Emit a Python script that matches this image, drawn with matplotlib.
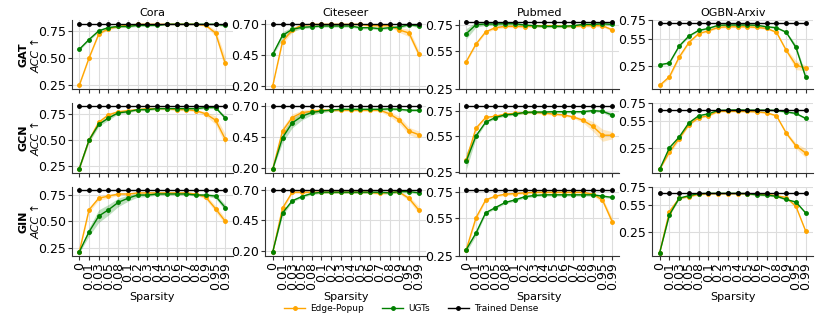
import numpy as np
import matplotlib
matplotlib.use("Agg")
import matplotlib.pyplot as plt
from matplotlib.ticker import FormatStrFormatter

sparsity = ["0", "0.01", "0.03", "0.05", "0.08", "0.1", "0.2", "0.3", "0.4",
            "0.5", "0.6", "0.7", "0.8", "0.9", "0.95", "0.99"]
datasets = ["Cora", "Citeseer", "Pubmed", "OGBN-Arxiv"]
models = ["GAT", "GCN", "GIN"]

# trained dense accuracy, one value per dataset
dense_gat = [0.81, 0.70, 0.77, 0.72]
dense_gcn = [0.82, 0.70, 0.79, 0.676]
dense_gin = [0.80, 0.70, 0.77, 0.68]

# ---- Cora ----
cora_gat_ep = [0.25, 0.50, 0.72, 0.77, 0.79, 0.80, 0.81, 0.81, 0.81, 0.81, 0.81, 0.81, 0.81, 0.80, 0.73, 0.45]
cora_gat_ep_sd = [0.01, 0.01, 0.01, 0.01, 0.01, 0.01, 0.005, 0.005, 0.005, 0.005, 0.005, 0.005, 0.005, 0.01, 0.03, 0.06]
cora_gat_ugt = [0.58, 0.67, 0.75, 0.78, 0.79, 0.79, 0.80, 0.80, 0.80, 0.81, 0.81, 0.81, 0.81, 0.81, 0.81, 0.80]
cora_gat_ugt_sd = [0.01, 0.01, 0.01, 0.01, 0.01, 0.01, 0.01, 0.01, 0.005, 0.005, 0.005, 0.005, 0.005, 0.005, 0.01, 0.01]

cora_gcn_ep = [0.23, 0.50, 0.67, 0.74, 0.77, 0.78, 0.79, 0.80, 0.80, 0.80, 0.79, 0.79, 0.78, 0.75, 0.69, 0.51]
cora_gcn_ep_sd = [0.01, 0.02, 0.02, 0.02, 0.01, 0.01, 0.01, 0.01, 0.01, 0.01, 0.01, 0.01, 0.01, 0.02, 0.04, 0.05]
cora_gcn_ugt = [0.23, 0.50, 0.65, 0.71, 0.76, 0.77, 0.79, 0.79, 0.80, 0.80, 0.80, 0.80, 0.80, 0.81, 0.81, 0.71]
cora_gcn_ugt_sd = [0.01, 0.02, 0.02, 0.02, 0.01, 0.01, 0.01, 0.01, 0.01, 0.01, 0.01, 0.01, 0.01, 0.01, 0.01, 0.02]

cora_gin_ep = [0.21, 0.61, 0.72, 0.74, 0.76, 0.76, 0.77, 0.77, 0.77, 0.77, 0.77, 0.77, 0.76, 0.73, 0.62, 0.50]
cora_gin_ep_sd = [0.01, 0.02, 0.02, 0.02, 0.01, 0.01, 0.01, 0.01, 0.01, 0.01, 0.01, 0.01, 0.01, 0.02, 0.03, 0.03]
cora_gin_ugt = [0.21, 0.40, 0.55, 0.61, 0.68, 0.72, 0.75, 0.75, 0.76, 0.76, 0.76, 0.76, 0.75, 0.75, 0.74, 0.63]
cora_gin_ugt_sd = [0.01, 0.04, 0.06, 0.05, 0.04, 0.03, 0.02, 0.015, 0.01, 0.01, 0.01, 0.01, 0.01, 0.01, 0.02, 0.03]

# ---- Citeseer ----
citeseer_gat_ep = [0.20, 0.56, 0.655, 0.695, 0.70, 0.70, 0.70, 0.70, 0.70, 0.70, 0.69, 0.69, 0.69, 0.655, 0.63, 0.46]
citeseer_gat_ep_sd = [0.005, 0.02, 0.02, 0.01, 0.01, 0.01, 0.01, 0.01, 0.01, 0.01, 0.01, 0.01, 0.01, 0.02, 0.03, 0.03]
citeseer_gat_ugt = [0.457, 0.61, 0.66, 0.676, 0.681, 0.687, 0.687, 0.687, 0.687, 0.673, 0.673, 0.665, 0.673, 0.679, 0.697, 0.687]
citeseer_gat_ugt_sd = [0.01, 0.03, 0.02, 0.01, 0.01, 0.01, 0.01, 0.01, 0.01, 0.01, 0.01, 0.01, 0.01, 0.01, 0.01, 0.01]

citeseer_gcn_ep = [0.19, 0.50, 0.61, 0.65, 0.66, 0.67, 0.67, 0.67, 0.67, 0.67, 0.67, 0.67, 0.64, 0.59, 0.50, 0.47]
citeseer_gcn_ep_sd = [0.005, 0.03, 0.03, 0.02, 0.02, 0.01, 0.01, 0.01, 0.01, 0.01, 0.01, 0.01, 0.02, 0.03, 0.03, 0.03]
citeseer_gcn_ugt = [0.19, 0.445, 0.566, 0.62, 0.651, 0.663, 0.671, 0.677, 0.677, 0.677, 0.677, 0.677, 0.68, 0.677, 0.669, 0.669]
citeseer_gcn_ugt_sd = [0.005, 0.04, 0.04, 0.03, 0.02, 0.015, 0.01, 0.01, 0.01, 0.01, 0.01, 0.01, 0.01, 0.01, 0.01, 0.01]

citeseer_gin_ep = [0.19, 0.55, 0.68, 0.68, 0.68, 0.68, 0.68, 0.68, 0.68, 0.68, 0.68, 0.67, 0.68, 0.68, 0.63, 0.535]
citeseer_gin_ep_sd = [0.005, 0.02, 0.01, 0.01, 0.01, 0.01, 0.01, 0.01, 0.01, 0.01, 0.01, 0.01, 0.01, 0.01, 0.02, 0.03]
citeseer_gin_ugt = [0.195, 0.51, 0.61, 0.645, 0.67, 0.68, 0.68, 0.68, 0.68, 0.68, 0.68, 0.68, 0.675, 0.685, 0.685, 0.675]
citeseer_gin_ugt_sd = [0.005, 0.02, 0.01, 0.01, 0.01, 0.01, 0.01, 0.01, 0.01, 0.01, 0.01, 0.01, 0.01, 0.01, 0.01, 0.01]

# ---- Pubmed ----
pubmed_gat_ep = [0.465, 0.60, 0.695, 0.727, 0.737, 0.737, 0.735, 0.742, 0.742, 0.742, 0.737, 0.737, 0.742, 0.742, 0.742, 0.71]
pubmed_gat_ep_sd = [0.01, 0.01, 0.01, 0.01, 0.01, 0.01, 0.01, 0.01, 0.01, 0.01, 0.01, 0.01, 0.01, 0.01, 0.01, 0.01]
pubmed_gat_ugt = [0.68, 0.75, 0.755, 0.755, 0.757, 0.757, 0.747, 0.742, 0.737, 0.737, 0.737, 0.742, 0.752, 0.752, 0.757, 0.752]
pubmed_gat_ugt_sd = [0.04, 0.02, 0.01, 0.01, 0.01, 0.01, 0.01, 0.01, 0.01, 0.01, 0.01, 0.01, 0.01, 0.01, 0.01, 0.01]

pubmed_gcn_ep = [0.35, 0.61, 0.70, 0.71, 0.727, 0.733, 0.741, 0.741, 0.736, 0.727, 0.72, 0.704, 0.676, 0.627, 0.553, 0.553]
pubmed_gcn_ep_sd = [0.04, 0.02, 0.01, 0.01, 0.01, 0.01, 0.01, 0.01, 0.01, 0.01, 0.01, 0.01, 0.02, 0.04, 0.05, 0.03]
pubmed_gcn_ugt = [0.34, 0.547, 0.661, 0.699, 0.721, 0.727, 0.741, 0.744, 0.744, 0.747, 0.747, 0.747, 0.747, 0.756, 0.75, 0.72]
pubmed_gcn_ugt_sd = [0.07, 0.02, 0.01, 0.01, 0.01, 0.01, 0.01, 0.01, 0.01, 0.01, 0.01, 0.01, 0.01, 0.01, 0.01, 0.02]

pubmed_gin_ep = [0.30, 0.55, 0.69, 0.72, 0.735, 0.74, 0.745, 0.75, 0.75, 0.75, 0.75, 0.75, 0.75, 0.735, 0.69, 0.52]
pubmed_gin_ep_sd = [0.02, 0.02, 0.01, 0.01, 0.01, 0.01, 0.01, 0.01, 0.01, 0.01, 0.01, 0.01, 0.01, 0.01, 0.02, 0.03]
pubmed_gin_ugt = [0.30, 0.43, 0.59, 0.63, 0.67, 0.69, 0.715, 0.725, 0.73, 0.73, 0.73, 0.73, 0.73, 0.73, 0.72, 0.71]
pubmed_gin_ugt_sd = [0.02, 0.02, 0.01, 0.01, 0.01, 0.01, 0.01, 0.01, 0.01, 0.01, 0.01, 0.01, 0.01, 0.01, 0.01, 0.01]

# ---- OGBN-Arxiv ----
ogbn_gat_ep = [0.032, 0.128, 0.345, 0.506, 0.605, 0.635, 0.674, 0.68, 0.68, 0.68, 0.674, 0.662, 0.62, 0.42, 0.256, 0.223]
ogbn_gat_ep_sd = [0.01, 0.02, 0.02, 0.01, 0.01, 0.01, 0.01, 0.01, 0.01, 0.01, 0.01, 0.01, 0.01, 0.02, 0.05, 0.03]
ogbn_gat_ugt = [0.26, 0.28, 0.467, 0.578, 0.64, 0.662, 0.697, 0.70, 0.70, 0.70, 0.697, 0.68, 0.67, 0.62, 0.452, 0.124]
ogbn_gat_ugt_sd = [0.01, 0.01, 0.01, 0.01, 0.01, 0.01, 0.01, 0.01, 0.01, 0.01, 0.01, 0.01, 0.01, 0.01, 0.03, 0.03]

ogbn_gcn_ep = [0.007, 0.20, 0.353, 0.507, 0.588, 0.61, 0.66, 0.66, 0.66, 0.658, 0.654, 0.643, 0.61, 0.415, 0.272, 0.19]
ogbn_gcn_ep_sd = [0.005, 0.02, 0.02, 0.01, 0.01, 0.01, 0.01, 0.01, 0.01, 0.01, 0.01, 0.01, 0.01, 0.02, 0.03, 0.05]
ogbn_gcn_ugt = [0.007, 0.25, 0.37, 0.53, 0.61, 0.632, 0.67, 0.673, 0.676, 0.673, 0.673, 0.673, 0.67, 0.654, 0.636, 0.58]
ogbn_gcn_ugt_sd = [0.005, 0.01, 0.01, 0.01, 0.01, 0.01, 0.01, 0.01, 0.01, 0.01, 0.01, 0.01, 0.01, 0.01, 0.01, 0.01]

ogbn_gin_ep = [0.023, 0.474, 0.622, 0.64, 0.665, 0.673, 0.673, 0.673, 0.673, 0.673, 0.665, 0.665, 0.65, 0.63, 0.532, 0.26]
ogbn_gin_ep_sd = [0.005, 0.03, 0.01, 0.01, 0.01, 0.01, 0.01, 0.01, 0.01, 0.01, 0.01, 0.01, 0.01, 0.01, 0.01, 0.01]
ogbn_gin_ugt = [0.023, 0.44, 0.622, 0.65, 0.673, 0.676, 0.676, 0.676, 0.676, 0.673, 0.66, 0.656, 0.644, 0.608, 0.58, 0.46]
ogbn_gin_ugt_sd = [0.005, 0.01, 0.01, 0.01, 0.01, 0.01, 0.01, 0.01, 0.01, 0.01, 0.01, 0.01, 0.01, 0.01, 0.01, 0.01]

yticks = {
    "Cora": [0.25, 0.50, 0.75],
    "Citeseer": [0.20, 0.45, 0.70],
    "Pubmed": [0.25, 0.55, 0.75],
    "OGBN-Arxiv": [0.25, 0.55, 0.75],
}

runs = {
    ("GAT", "Cora"): (cora_gat_ep, cora_gat_ep_sd, cora_gat_ugt, cora_gat_ugt_sd),
    ("GCN", "Cora"): (cora_gcn_ep, cora_gcn_ep_sd, cora_gcn_ugt, cora_gcn_ugt_sd),
    ("GIN", "Cora"): (cora_gin_ep, cora_gin_ep_sd, cora_gin_ugt, cora_gin_ugt_sd),
    ("GAT", "Citeseer"): (citeseer_gat_ep, citeseer_gat_ep_sd, citeseer_gat_ugt, citeseer_gat_ugt_sd),
    ("GCN", "Citeseer"): (citeseer_gcn_ep, citeseer_gcn_ep_sd, citeseer_gcn_ugt, citeseer_gcn_ugt_sd),
    ("GIN", "Citeseer"): (citeseer_gin_ep, citeseer_gin_ep_sd, citeseer_gin_ugt, citeseer_gin_ugt_sd),
    ("GAT", "Pubmed"): (pubmed_gat_ep, pubmed_gat_ep_sd, pubmed_gat_ugt, pubmed_gat_ugt_sd),
    ("GCN", "Pubmed"): (pubmed_gcn_ep, pubmed_gcn_ep_sd, pubmed_gcn_ugt, pubmed_gcn_ugt_sd),
    ("GIN", "Pubmed"): (pubmed_gin_ep, pubmed_gin_ep_sd, pubmed_gin_ugt, pubmed_gin_ugt_sd),
    ("GAT", "OGBN-Arxiv"): (ogbn_gat_ep, ogbn_gat_ep_sd, ogbn_gat_ugt, ogbn_gat_ugt_sd),
    ("GCN", "OGBN-Arxiv"): (ogbn_gcn_ep, ogbn_gcn_ep_sd, ogbn_gcn_ugt, ogbn_gcn_ugt_sd),
    ("GIN", "OGBN-Arxiv"): (ogbn_gin_ep, ogbn_gin_ep_sd, ogbn_gin_ugt, ogbn_gin_ugt_sd),
}
dense = {"GAT": dense_gat, "GCN": dense_gcn, "GIN": dense_gin}

plt.rcParams["font.family"] = "DejaVu Sans"
plt.rcParams["font.size"] = 8

ep_color = "orange"
ugt_color = "green"

fig, axes = plt.subplots(3, 4, figsize=(8.22, 3.13), dpi=100)
fig.subplots_adjust(left=0.0876, right=0.989, bottom=0.182, top=0.936,
                    wspace=0.205, hspace=0.2)

x = np.arange(len(sparsity))

for i, m in enumerate(models):
    for j, d in enumerate(datasets):
        ax = axes[i, j]
        ep, ep_sd, ugt, ugt_sd = [np.array(a) for a in runs[(m, d)]]

        ax.fill_between(x, ep - ep_sd, ep + ep_sd, color=ep_color, alpha=0.25, lw=0)
        ax.plot(x, ep, color=ep_color, marker="o", ms=2.5, lw=1.0, label="Edge-Popup")
        ax.fill_between(x, ugt - ugt_sd, ugt + ugt_sd, color=ugt_color, alpha=0.25, lw=0)
        ax.plot(x, ugt, color=ugt_color, marker="o", ms=2.5, lw=1.0, label="UGTs")
        ax.plot(x, [dense[m][j]] * len(x), color="black", marker="o", ms=2.5, lw=1.0,
                label="Trained Dense")

        ax.set_xticks(x)
        if i == 2:
            ax.set_xticklabels(sparsity, rotation=90)
            ax.set_xlabel("Sparsity", labelpad=1)
        else:
            ax.set_xticklabels([])
        ax.set_yticks(yticks[d])
        ax.yaxis.set_major_formatter(FormatStrFormatter("%.2f"))

        ax.grid(True, color="#dddddd", lw=0.8)
        ax.set_axisbelow(True)
        for s in ["top", "right"]:
            ax.spines[s].set_visible(False)
        for s in ["left", "bottom"]:
            ax.spines[s].set_color("#333333")
            ax.spines[s].set_linewidth(0.8)
        ax.tick_params(length=3, width=0.8, color="#333333", pad=1.5, labelsize=9)

        if i == 0:
            ax.set_title(d, fontsize=8, pad=3)
        if j == 0:
            ax.text(-0.305, 0.5, m, transform=ax.transAxes, rotation=90,
                    fontweight="bold", fontsize=8, ha="center", va="center")
            ax.text(-0.222, 0.5, "ACC ↑", transform=ax.transAxes, rotation=90,
                    fontstyle="italic", fontsize=8, ha="center", va="center")

handles, labels = axes[0, 0].get_legend_handles_labels()
fig.legend(handles, labels, loc="lower center", bbox_to_anchor=(0.5, -0.025), ncol=3,
           frameon=False, fontsize=6.5, handlelength=2.4, handletextpad=0.5,
           columnspacing=2.0)

fig.savefig("out.png", dpi=100)
